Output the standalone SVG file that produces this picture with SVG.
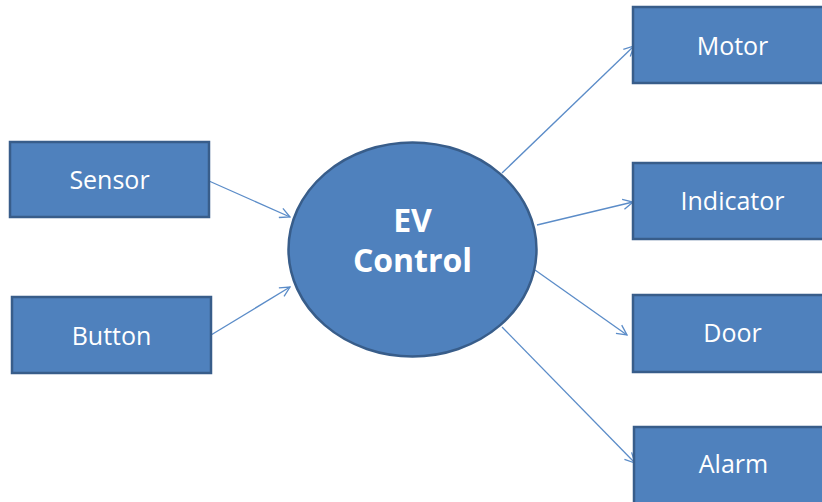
<svg xmlns="http://www.w3.org/2000/svg" width="822" height="502" viewBox="0 0 822 502">
  <style>
    .box { fill: #4F81BD; stroke: #385D8A; stroke-width: 2.5; }
    .hub { fill: #4F81BD; stroke: #385D8A; stroke-width: 2.5; }
    .lbl { font-family: "Open Sans", "Noto Sans", sans-serif; font-size: 25px; fill: #FFFFFF; text-anchor: middle; }
    .hubtxt { font-family: "Open Sans", "Noto Sans", sans-serif; font-size: 32px; font-weight: bold; fill: #FFFFFF; text-anchor: middle; }
    .link { fill: none; stroke: #5B8CC8; stroke-width: 1.3; marker-end: url(#arrow); }
  </style>
  <defs>
    <marker id="arrow" viewBox="0 0 12 12" refX="11" refY="6" markerWidth="12" markerHeight="12" markerUnits="userSpaceOnUse" orient="auto">
      <path d="M1,1 L11,6 L1,11" fill="none" stroke="#5B8CC8" stroke-width="1.3"/>
    </marker>
  </defs>
  <rect width="822" height="502" fill="#FFFFFF"/>

  <g id="connectors">
    <line class="link" x1="209" y1="181" x2="290" y2="217"/>
    <line class="link" x1="211" y1="335" x2="290" y2="287"/>
    <line class="link" x1="502" y1="173" x2="634" y2="46"/>
    <line class="link" x1="537" y1="225" x2="633" y2="202"/>
    <line class="link" x1="535" y1="270" x2="627" y2="335"/>
    <line class="link" x1="502" y1="327" x2="635" y2="463"/>
  </g>

  <g id="sensor">
    <rect class="box" x="10" y="142" width="199" height="75"/>
    <text class="lbl" x="109.5" y="189">Sensor</text>
  </g>
  <g id="button">
    <rect class="box" x="12" y="297" width="199" height="76"/>
    <text class="lbl" x="111.5" y="345">Button</text>
  </g>
  <g id="ev-control">
    <ellipse class="hub" cx="412.5" cy="249.5" rx="124" ry="107"/>
    <text class="hubtxt" x="412.5" y="232">EV</text>
    <text class="hubtxt" x="412.5" y="272">Control</text>
  </g>
  <g id="motor">
    <rect class="box" x="633" y="7" width="199" height="76"/>
    <text class="lbl" x="732.5" y="55">Motor</text>
  </g>
  <g id="indicator">
    <rect class="box" x="633" y="163" width="199" height="76"/>
    <text class="lbl" x="732.5" y="210">Indicator</text>
  </g>
  <g id="door">
    <rect class="box" x="633" y="295" width="199" height="77"/>
    <text class="lbl" x="732.5" y="342">Door</text>
  </g>
  <g id="alarm">
    <rect class="box" x="634" y="427" width="199" height="80"/>
    <text class="lbl" x="733.5" y="473">Alarm</text>
  </g>
</svg>
